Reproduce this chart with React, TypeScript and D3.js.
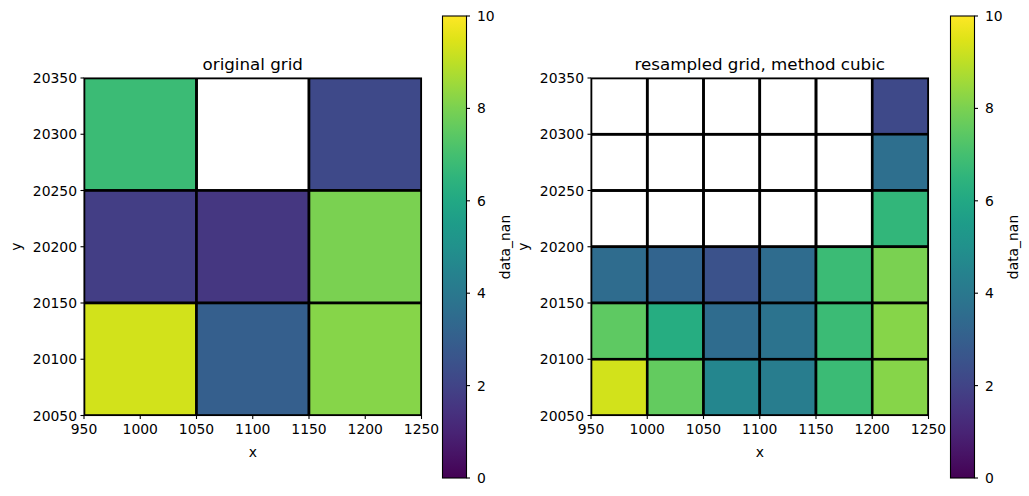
import React from "react";
import * as d3 from "d3";

// Cell edges of the original grid (100 m spacing) and the resampled grid (50 m spacing)
const origX = [950, 1050, 1150, 1250];
const origY = [20050, 20150, 20250, 20350];
const resX = [950, 1000, 1050, 1100, 1150, 1200, 1250];
const resY = [20050, 20100, 20150, 20200, 20250, 20300, 20350];

// Values, rows from top (north) to bottom; null = NaN
const origValues: (number | null)[][] = [
  [6.8, null, 2.2],
  [1.8, 1.6, 8.0],
  [9.3, 3.0, 8.2],
];

const resValues: (number | null)[][] = [
  [null, null, null, null, null, 2.2],
  [null, null, null, null, null, 3.6],
  [null, null, null, null, null, 6.6],
  [3.5, 3.2, 2.5, 3.5, 6.8, 8.0],
  [7.5, 6.2, 3.5, 3.8, 6.8, 8.2],
  [9.3, 7.6, 4.6, 4.2, 6.8, 8.2],
];

const xTicks = [950, 1000, 1050, 1100, 1150, 1200, 1250];
const yTicks = [20050, 20100, 20150, 20200, 20250, 20300, 20350];
const cbTicks = [0, 2, 4, 6, 8, 10];

const FONT = "DejaVu Sans, sans-serif";
const color = d3.scaleSequential(d3.interpolateViridis).domain([0, 10]);

type PanelProps = {
  left: number;
  cbLeft: number;
  title: string;
  xs: number[];
  ys: number[];
  values: (number | null)[][];
  showYLabel: boolean;
};

function Panel({ left, cbLeft, title, xs, ys, values, showYLabel }: PanelProps) {
  const top = 78;
  const size = 337.5;
  const x = d3.scaleLinear().domain([950, 1250]).range([left, left + size]);
  const y = d3.scaleLinear().domain([20050, 20350]).range([top + size, top]);
  const cbTop = 16;
  const cbBottom = 478;
  const cbW = 24;
  const cy = d3.scaleLinear().domain([0, 10]).range([cbBottom, cbTop]);
  const gradId = `grad-${left}`;
  const nRows = ys.length - 1;

  const cells: React.ReactNode[] = [];
  values.forEach((row, r) => {
    const yi = nRows - 1 - r;
    row.forEach((v, c) => {
      const x0 = x(xs[c]);
      const x1 = x(xs[c + 1]);
      const y0 = y(ys[yi + 1]);
      const y1 = y(ys[yi]);
      cells.push(
        <rect
          key={`${r}-${c}`}
          x={x0}
          y={y0}
          width={x1 - x0}
          height={y1 - y0}
          fill={v == null ? "none" : color(v)}
          stroke="#000"
          strokeWidth={2.6}
        />
      );
    });
  });

  const stops = d3.range(0, 1.0001, 0.05);

  return (
    <g>
      <defs>
        <linearGradient id={gradId} x1="0" y1="1" x2="0" y2="0">
          {stops.map((t) => (
            <stop key={t} offset={t} stopColor={d3.interpolateViridis(t)} />
          ))}
        </linearGradient>
        <clipPath id={`clip-${left}`}>
          <rect x={left} y={top} width={size} height={size} />
        </clipPath>
      </defs>
      <g clipPath={`url(#clip-${left})`}>{cells}</g>
      <rect x={left} y={top} width={size} height={size} fill="none" stroke="#000" strokeWidth={1.1} />
      <text x={left + size / 2} y={top - 8} textAnchor="middle" fontSize={16.7} fontFamily={FONT}>
        {title}
      </text>
      {xTicks.map((t) => (
        <g key={t}>
          <line x1={x(t)} x2={x(t)} y1={top + size} y2={top + size + 3.5} stroke="#000" strokeWidth={1.1} />
          <text x={x(t)} y={top + size + 18} textAnchor="middle" fontSize={13.9} fontFamily={FONT}>
            {t}
          </text>
        </g>
      ))}
      {yTicks.map((t) => (
        <g key={t}>
          <line x1={left - 3.5} x2={left} y1={y(t)} y2={y(t)} stroke="#000" strokeWidth={1.1} />
          <text x={left - 7} y={y(t) + 5} textAnchor="end" fontSize={13.9} fontFamily={FONT}>
            {t}
          </text>
        </g>
      ))}
      <text x={left + size / 2} y={top + size + 41} textAnchor="middle" fontSize={13.9} fontFamily={FONT}>
        x
      </text>
      {showYLabel && (
        <text
          transform={`translate(${left - 63},${top + size / 2}) rotate(-90)`}
          textAnchor="middle"
          fontSize={13.9}
          fontFamily={FONT}
        >
          y
        </text>
      )}
      <rect x={cbLeft} y={cbTop} width={cbW} height={cbBottom - cbTop} fill={`url(#${gradId})`} stroke="#000" strokeWidth={1.1} />
      {cbTicks.map((t) => (
        <g key={t}>
          <line x1={cbLeft + cbW} x2={cbLeft + cbW + 3.5} y1={cy(t)} y2={cy(t)} stroke="#000" strokeWidth={1.1} />
          <text x={cbLeft + cbW + 10.5} y={cy(t) + 5} fontSize={13.9} fontFamily={FONT}>
            {t}
          </text>
        </g>
      ))}
      <text
        transform={`translate(${cbLeft + cbW + 43},${(cbTop + cbBottom) / 2}) rotate(-90)`}
        textAnchor="middle"
        fontSize={13.9}
        fontFamily={FONT}
      >
        data_nan
      </text>
    </g>
  );
}

export default function App() {
  return (
    <svg width={1029} height={496} style={{ position: "absolute", left: 0, top: 0, background: "#fff" }}>
      <rect width={1029} height={496} fill="#fff" />
      <Panel left={84} cbLeft={442.5} title="original grid" xs={origX} ys={origY} values={origValues} showYLabel={true} />
      <Panel left={591} cbLeft={950.5} title="resampled grid, method cubic" xs={resX} ys={resY} values={resValues} showYLabel={true} />
    </svg>
  );
}
